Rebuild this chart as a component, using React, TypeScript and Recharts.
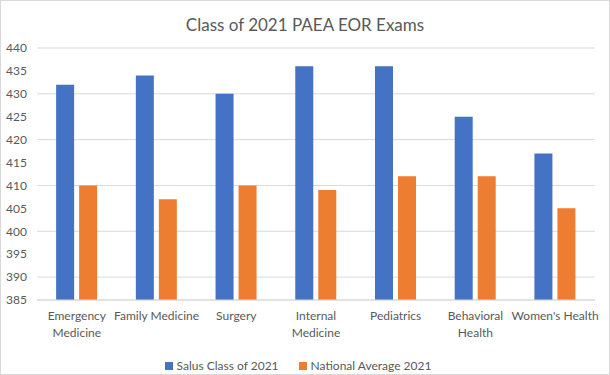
import React from "react";
import { BarChart, Bar, XAxis, YAxis, CartesianGrid, Legend } from "recharts";

const categories = [
  "Emergency\nMedicine",
  "Family Medicine",
  "Surgery",
  "Internal\nMedicine",
  "Pediatrics",
  "Behavioral\nHealth",
  "Women's Health",
];
const salus = [432, 434, 430, 436, 436, 425, 417];
const national = [410, 407, 410, 409, 412, 412, 405];
const yTicks = [385, 390, 395, 400, 405, 410, 415, 420, 425, 430, 435, 440];

const series = [
  { key: "salus", name: "Salus Class of 2021", color: "#4472C4" },
  { key: "national", name: "National Average 2021", color: "#ED7D31" },
];

const data = categories.map((name, i) => ({
  name,
  salus: salus[i],
  national: national[i],
}));

const FONT = "Lato, 'Liberation Sans', sans-serif";
const GRAY = "#595959";

function CategoryTick(props: any) {
  const { x, y, payload } = props;
  const lines = String(payload.value).split("\n");
  return (
    <text x={x} y={y} textAnchor="middle" fill={GRAY} fontSize={12} fontFamily={FONT}>
      {lines.map((line, i) => (
        <tspan key={i} x={x} dy={i === 0 ? 12 : 17}>
          {line}
        </tspan>
      ))}
    </text>
  );
}

function LegendContent() {
  return (
    <div style={{ display: "flex", justifyContent: "center", gap: 20, fontSize: 12, color: GRAY, fontFamily: FONT }}>
      {series.map((s) => (
        <div key={s.key} style={{ display: "flex", alignItems: "center", gap: 4 }}>
          <span style={{ display: "inline-block", width: 8, height: 8, background: s.color }} />
          <span>{s.name}</span>
        </div>
      ))}
    </div>
  );
}

export default function App() {
  return (
    <div
      style={{
        position: "absolute",
        left: 0,
        top: 0,
        width: 608,
        height: 373,
        border: "1px solid #d9d9d9",
        background: "#fff",
        fontFamily: FONT,
      }}
    >
      <div
        style={{
          position: "absolute",
          top: 13,
          left: 0,
          width: 608,
          textAlign: "center",
          fontSize: 17,
          color: GRAY,
        }}
      >
        Class of 2021 PAEA EOR Exams
      </div>
      <BarChart
        width={608}
        height={373}
        data={data}
        margin={{ top: 47, right: 14, bottom: 4, left: 0 }}
        barCategoryGap="24%"
        barGap={5}
      >
        <CartesianGrid vertical={false} stroke="#d9d9d9" />
        <XAxis
          dataKey="name"
          interval={0}
          tickLine={false}
          axisLine={{ stroke: "#d9d9d9" }}
          height={50}
          tick={<CategoryTick />}
        />
        <YAxis
          width={36}
          domain={[385, 440]}
          ticks={yTicks}
          allowDataOverflow
          tickLine={false}
          axisLine={false}
          tickMargin={4}
          tick={{ fill: GRAY, fontSize: 12, fontFamily: FONT }}
        />
        <Legend content={<LegendContent />} wrapperStyle={{ bottom: -4, height: 20 }} />
        {series.map((s) => (
          <Bar key={s.key} dataKey={s.key} name={s.name} fill={s.color} isAnimationActive={false} />
        ))}
      </BarChart>
    </div>
  );
}
